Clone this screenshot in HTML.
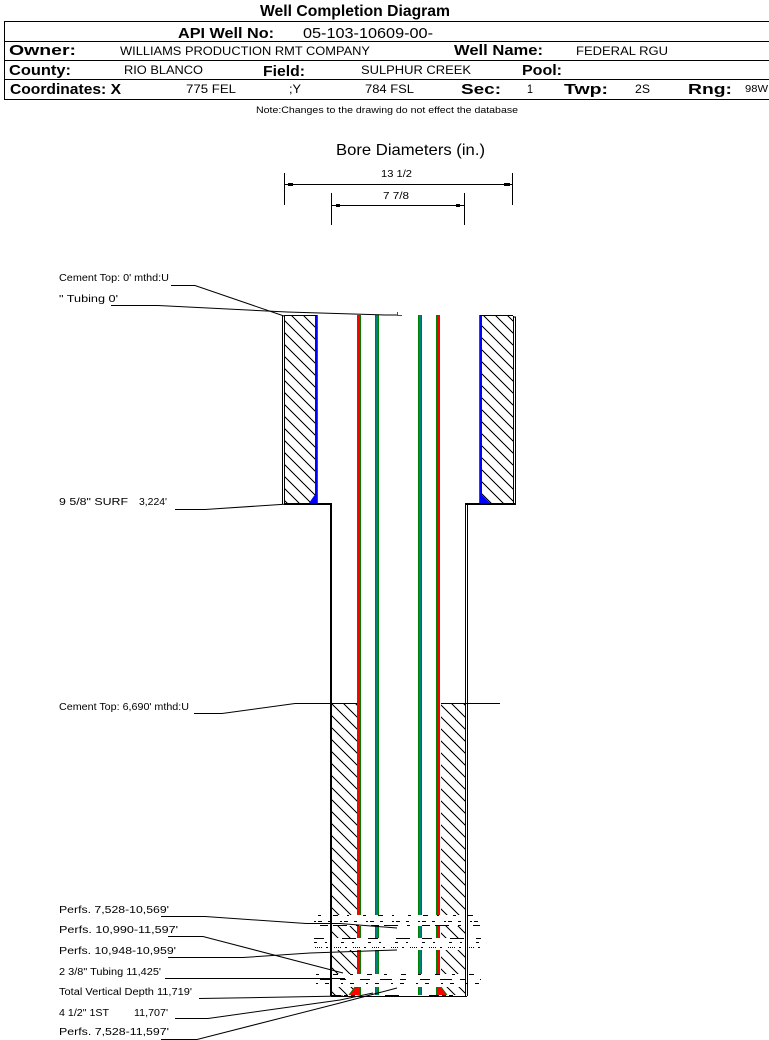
<!DOCTYPE html>
<html><head><meta charset="utf-8"><title>Well Completion Diagram</title>
<style>html,body{margin:0;padding:0;background:#fff}svg{display:block}
text{font-family:"Liberation Sans",sans-serif;fill:#000}
.b{font-weight:bold;font-size:15px}.r{font-size:12px}.l{font-size:10px}
.k{fill:none;stroke:#000;stroke-width:1}</style></head><body>
<svg xmlns="http://www.w3.org/2000/svg" width="769" height="1040" viewBox="0 0 769 1040">
<defs>
<pattern id="h" width="12" height="12" patternUnits="userSpaceOnUse"><path d="M-1 -1L13 13M-1 11L1 13M11 -1L13 1" stroke="#000" stroke-width="1" fill="none" shape-rendering="crispEdges"/></pattern>
</defs>
<g>
<text x="260" y="16" class="b" style="font-size:16px" textLength="190" lengthAdjust="spacingAndGlyphs">Well Completion Diagram</text>
<text x="178" y="38" class="b" textLength="96" lengthAdjust="spacingAndGlyphs">API Well No:</text>
<text x="303" y="38" style="font-size:15px" textLength="130" lengthAdjust="spacingAndGlyphs">05-103-10609-00-</text>
<text x="9" y="55" class="b" textLength="67" lengthAdjust="spacingAndGlyphs">Owner:</text>
<text x="120" y="55" class="r" textLength="250" lengthAdjust="spacingAndGlyphs">WILLIAMS PRODUCTION RMT COMPANY</text>
<text x="454" y="55" class="b" textLength="89" lengthAdjust="spacingAndGlyphs">Well Name:</text>
<text x="576" y="55" class="r" textLength="92" lengthAdjust="spacingAndGlyphs">FEDERAL RGU</text>
<text x="9" y="75" class="b" textLength="62" lengthAdjust="spacingAndGlyphs">County:</text>
<text x="124" y="74" class="r" textLength="79" lengthAdjust="spacingAndGlyphs">RIO BLANCO</text>
<text x="263" y="76" class="b" textLength="42" lengthAdjust="spacingAndGlyphs">Field:</text>
<text x="361" y="74" class="r" textLength="110" lengthAdjust="spacingAndGlyphs">SULPHUR CREEK</text>
<text x="522" y="75" class="b" textLength="40" lengthAdjust="spacingAndGlyphs">Pool:</text>
<text x="10" y="94" class="b" textLength="111" lengthAdjust="spacingAndGlyphs">Coordinates: X</text>
<text x="186" y="93" class="r" textLength="50" lengthAdjust="spacingAndGlyphs">775 FEL</text>
<text x="289" y="93" class="r" textLength="12" lengthAdjust="spacingAndGlyphs">;Y</text>
<text x="365" y="93" class="r" textLength="49" lengthAdjust="spacingAndGlyphs">784 FSL</text>
<text x="461" y="94" class="b" textLength="40" lengthAdjust="spacingAndGlyphs">Sec:</text>
<text x="527" y="93" class="r" textLength="6" lengthAdjust="spacingAndGlyphs">1</text>
<text x="564" y="94" class="b" textLength="44" lengthAdjust="spacingAndGlyphs">Twp:</text>
<text x="635" y="93" class="r" textLength="15" lengthAdjust="spacingAndGlyphs">2S</text>
<text x="688" y="94" class="b" textLength="44" lengthAdjust="spacingAndGlyphs">Rng:</text>
<text x="745" y="92" style="font-size:10px" textLength="23" lengthAdjust="spacingAndGlyphs">98W</text>
<text x="256" y="113" style="font-size:9px" textLength="262" lengthAdjust="spacingAndGlyphs">Note:Changes to the drawing do not effect the database</text>
<text x="336" y="155" style="font-size:16px" textLength="149" lengthAdjust="spacingAndGlyphs">Bore Diameters (in.)</text>
<text x="381" y="177" style="font-size:10px" textLength="31" lengthAdjust="spacingAndGlyphs">13 1/2</text>
<text x="383" y="199" style="font-size:10px" textLength="26" lengthAdjust="spacingAndGlyphs">7 7/8</text>
<text x="59" y="281" class="l" textLength="110" lengthAdjust="spacingAndGlyphs">Cement Top: 0' mthd:U</text>
<text x="59" y="302" class="l" textLength="59" lengthAdjust="spacingAndGlyphs">" Tubing 0'</text>
<text x="59" y="505" class="l" textLength="69" lengthAdjust="spacingAndGlyphs">9 5/8" SURF</text>
<text x="139" y="505" class="l" textLength="28" lengthAdjust="spacingAndGlyphs">3,224'</text>
<text x="59" y="710" class="l" textLength="130" lengthAdjust="spacingAndGlyphs">Cement Top: 6,690' mthd:U</text>
<text x="59" y="913" class="l" textLength="110" lengthAdjust="spacingAndGlyphs">Perfs. 7,528-10,569'</text>
<text x="59" y="933" class="l" textLength="119" lengthAdjust="spacingAndGlyphs">Perfs. 10,990-11,597'</text>
<text x="59" y="954" class="l" textLength="117" lengthAdjust="spacingAndGlyphs">Perfs. 10,948-10,959'</text>
<text x="59" y="975" class="l" textLength="102" lengthAdjust="spacingAndGlyphs">2 3/8" Tubing 11,425'</text>
<text x="59" y="995" class="l" textLength="133" lengthAdjust="spacingAndGlyphs">Total Vertical Depth 11,719'</text>
<text x="59" y="1016" class="l" textLength="50" lengthAdjust="spacingAndGlyphs">4 1/2" 1ST</text>
<text x="134" y="1016" class="l" textLength="34" lengthAdjust="spacingAndGlyphs">11,707'</text>
<text x="59" y="1035" class="l" textLength="110" lengthAdjust="spacingAndGlyphs">Perfs. 7,528-11,597'</text>
</g>

<g shape-rendering="crispEdges" fill="none" stroke="#000">
<path d="M4 21.5H769M4 41.5H769M4 60.5H769M4 79.5H769M4 99.5H769M4.5 21V99"/>
<path d="M285 184.5H512M284.5 173V205M512.5 173V205M332 205.5H464M331.5 193V225M464.5 193V225"/>
</g>
<g fill="#000" shape-rendering="crispEdges">
<rect x="288" y="183" width="5" height="3"/><rect x="504" y="183" width="6" height="3"/>
<rect x="336" y="204" width="4" height="3"/><rect x="456" y="204" width="4" height="3"/>
</g>

<!-- hatch -->
<rect x="285" y="316" width="31" height="187" fill="url(#h)"/>
<rect x="481" y="316" width="32" height="187" fill="url(#h)"/>
<rect x="332" y="704" width="25" height="291" fill="url(#h)"/>
<rect x="441" y="704" width="24" height="291" fill="url(#h)"/>

<!-- casing -->
<g shape-rendering="crispEdges">
<rect x="284" y="315" width="33" height="1" fill="#000"/>
<rect x="480" y="315" width="33" height="1" fill="#000"/>
<rect x="315" y="316" width="3" height="187" fill="#00f"/>
<rect x="479" y="316" width="3" height="187" fill="#00f"/>
<rect x="317" y="315" width="1" height="188" fill="#008000"/>
<rect x="479" y="315" width="1" height="188" fill="#008000"/>
<path d="M282.5 316V504M284.5 316V503M513.5 316V503M515.5 317V504M513 317H516" stroke="#000" fill="none"/>
<rect x="284" y="503" width="48" height="2" fill="#000"/>
<rect x="330" y="503" width="2" height="493" fill="#000"/>
<rect x="465" y="503" width="51" height="2" fill="#000"/>
<path d="M465.5 503V996M467.5 505V996" stroke="#000" fill="none"/>
<rect x="295" y="703" width="62" height="1" fill="#000"/>
<rect x="441" y="703" width="59" height="1" fill="#000"/>
<!-- tubes -->
<rect x="357" y="315" width="3" height="680" fill="#f00"/><rect x="360" y="315" width="1" height="680" fill="#008000"/>
<rect x="375" y="315" width="4" height="680" fill="#008000"/><rect x="376" y="315" width="2" height="680" fill="#008080"/>
<rect x="418" y="315" width="4" height="680" fill="#008000"/><rect x="419" y="315" width="2" height="680" fill="#008080"/>
<rect x="437" y="315" width="3" height="680" fill="#f00"/><rect x="436" y="315" width="1" height="680" fill="#008000"/>
</g>
<path d="M309 503L316 493V503Z" fill="#00f"/>
<path d="M480 493L490 503H480Z" fill="#00f"/>

<!-- perforation bands -->
<g shape-rendering="crispEdges">
<rect x="332" y="915" width="133" height="11" fill="#fff"/>
<rect x="332" y="938" width="133" height="12" fill="#fff"/>
<rect x="332" y="974" width="133" height="13" fill="#fff"/>
<g fill="none" stroke="#000">
<path d="M318 915.5H482" stroke-dasharray="3 12 5 9 2 14"/>
<path d="M314 921.5H481" stroke-dasharray="2 2 4 6 3 9"/>
<path d="M320 925.5H480" stroke-dasharray="8 5 14 9 3 12"/>
<path d="M314 938.5H481" stroke-dasharray="10 18 14 12"/>
<path d="M314 942.5H480" stroke-dasharray="3 8 2 14"/>
<path d="M315 947.5H481" stroke-dasharray="1 1 1 1 1 1 1 4 2 6"/>
<path d="M316 974.5H480" stroke-dasharray="3 14 5 12"/>
<path d="M320 979.5H481" stroke-dasharray="12 8 6 14 10 10"/>
<path d="M316 983.5H482" stroke-dasharray="2 7 4 12"/>
</g>
</g>

<!-- bottom -->
<path d="M349 995L355 987H360V995Z" fill="#f00"/><path d="M437 987H441L447 995H437Z" fill="#f00"/>
<path d="M349 995L355 987" stroke="#008000" fill="none"/><path d="M441 987L447 995" stroke="#008000" fill="none"/>
<g shape-rendering="crispEdges" fill="none" stroke="#000">
<path d="M331 996.5H467"/>
<path d="M331 995.5H467" stroke-dasharray="10 3 4 3 4 30 14 30"/>
</g>

<!-- leaders -->
<g class="k">
<polyline points="171,285.5 195,285.5 284,316"/>
<polyline points="111,305.5 158,305.5 287,312 385,315 397,315"/>
<polyline points="175,509.5 205,509.5 288,504"/>
<polyline points="194,713.5 222,713.5 295,703.5"/>
<polyline points="161,916.5 205,916.5 306,923.5 340,923.5 397,928"/>
<polyline points="168,936.5 203,936.5 343,973"/>
<polyline points="168,957.5 243,957.5 310,953 397,950"/>
<polyline points="165,978.5 345,978.5"/>
<polyline points="199,998.5 260,997.5 343,996"/>
<polyline points="175,1018.5 208,1018.5 340,1000 373,993"/>
<polyline points="161,1039.5 197,1039.5 340,1003 397,988"/>
</g>
<path d="M397.5 312V315.5M397 315.5H402" stroke="#008000" fill="none" shape-rendering="crispEdges"/>
</svg>
</body></html>
